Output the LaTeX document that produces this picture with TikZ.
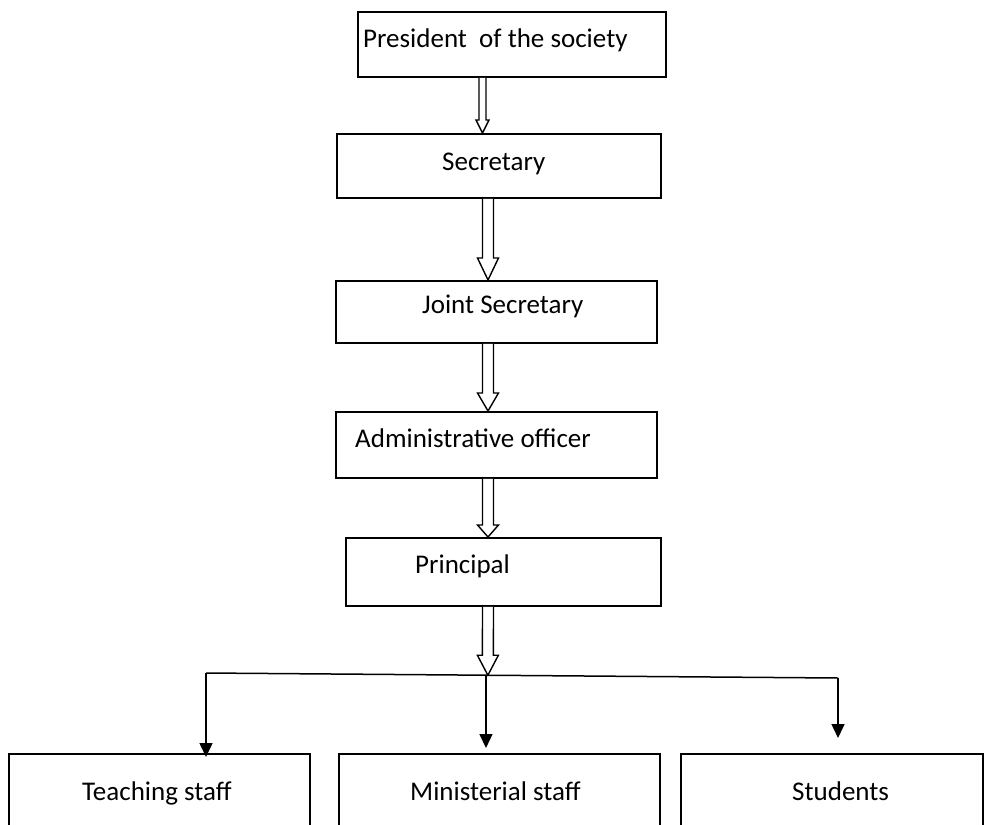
\documentclass[tikz,border=0pt]{standalone}
\usepackage{fontspec}
\setmainfont{Carlito}
\usetikzlibrary{calc,arrows.meta}
\newcommand{\blockarrow}[5]{%
  \draw[barrow] ($(#1)+(-#3,0)$) -- ($(#2)+(-#3,-#5)$) -- ($(#2)+(-#4,-#5)$) -- (#2)
    -- ($(#2)+(#4,-#5)$) -- ($(#2)+(#3,-#5)$) -- ($(#1)+(#3,0)$);}
\begin{document}
\begin{tikzpicture}[x=1pt,y=-1pt,
  box/.style={draw, line width=1.8pt, inner sep=0pt, anchor=north west},
  lbl/.style={font=\fontsize{27}{32}\selectfont, inner sep=0pt, anchor=base west},
  barrow/.style={draw, line width=1.4pt, fill=white, line join=miter},
  conn/.style={line width=1.5pt, -{Triangle[length=14pt,width=13pt]}}]
\useasboundingbox[fill=white] (0,0) rectangle (984,824);
% boxes
\node[box, minimum width=308, minimum height=65] (pres) at (357,11) {};
\node[box, minimum width=324, minimum height=64] (sec) at (336,133) {};
\node[box, minimum width=321, minimum height=62] (joint) at (335,280) {};
\node[box, minimum width=321, minimum height=66] (adm) at (335,411) {};
\node[box, minimum width=315, minimum height=68] (pri) at (345,537) {};
\node[box, minimum width=301, minimum height=80] (tea) at (8,753) {};
\node[box, minimum width=321, minimum height=80] (min) at (338,753) {};
\node[box, minimum width=302, minimum height=80] (stu) at (680,753) {};
% labels
\node[lbl] (tpres) at (363,48) {President\ \ of the society};
\node[lbl] (tsec) at (442,170) {Secretary};
\node[lbl] (tjoint) at (422,313) {Joint Secretary};
\node[lbl] (tadm) at (355,447) {Administrative officer};
\node[lbl] (tpri) at (415,573) {Principal};
\node[lbl] (ttea) at (82,800) {Teaching staff};
\node[lbl] (tmin) at (410,800) {Ministerial staff};
\node[lbl] (tstu) at (792,800) {Students};
% block arrows
\coordinate (a1s) at (482.5,0 |- pres.south);
\coordinate (a1e) at (482.5,0 |- sec.north);
\coordinate (a2s) at (488,0 |- sec.south);
\coordinate (a2e) at (488,0 |- joint.north);
\coordinate (a3s) at (488,0 |- joint.south);
\coordinate (a3e) at (488,0 |- adm.north);
\coordinate (a4s) at (488,0 |- adm.south);
\coordinate (a4e) at (488,0 |- pri.north);
\coordinate (a5s) at (488,0 |- pri.south);
\coordinate (bl) at (206,673);
\coordinate (br) at (838,678);
\coordinate (a5e) at ($(bl)!0.446!(br)$);
\coordinate (bm) at ($(bl)!0.443!(br)$);
\blockarrow{a1s}{a1e}{3.5}{6.5}{13}
\blockarrow{a2s}{a2e}{5.5}{10.5}{22}
\blockarrow{a3s}{a3e}{5.5}{10.5}{18}
\blockarrow{a4s}{a4e}{5.5}{10.5}{12}
% branch
\draw[line width=1.5pt] (bl) -- (br);
\blockarrow{a5s}{a5e}{5.5}{10.5}{20}
\draw[conn] (bl) -- ($(tea.north -| bl)+(0,4)$);
\draw[conn] (bm) -- ($(min.north -| bm)+(0,-5)$);
\draw[conn] (br) -- ($(stu.north -| br)+(0,-15)$);
\end{tikzpicture}
\end{document}
